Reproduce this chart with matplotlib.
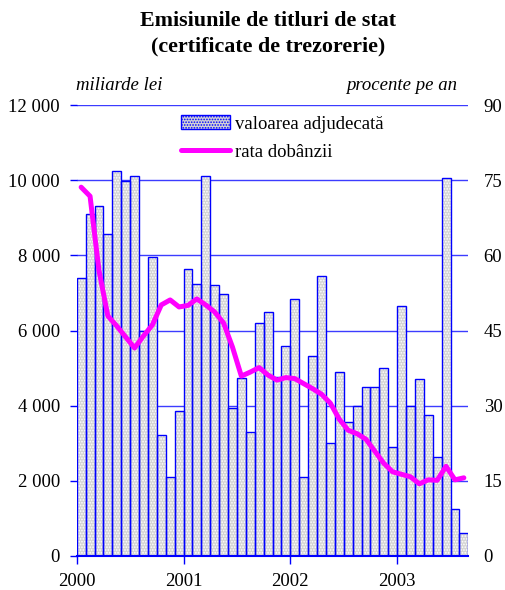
import matplotlib
matplotlib.use("Agg")
import matplotlib.pyplot as plt
import numpy as np
from matplotlib.patches import Patch

# ---- data ----
years = ["2000", "2001", "2002", "2003"]
values = [7410, 9110, 9325, 8580, 10250, 9970, 10120, 6000, 7960, 3220, 2090, 3860,
          7630, 7250, 10100, 7200, 6960, 3930, 4725, 3290, 6190, 6500, 4750, 5590,
          6825, 2090, 5320, 7445, 3000, 4900, 3570, 4000, 4485, 4485, 4990, 2890,
          6650, 3990, 4700, 3740, 2640, 10070, 1240, 620]
rates = [73.6, 71.8, 57.0, 47.9, 45.9, 43.7, 41.5, 43.9, 46.1, 50.1, 51.1, 49.7,
         50.0, 51.3, 50.1, 48.7, 46.5, 41.7, 35.9, 36.7, 37.6, 36.1, 35.1, 35.6,
         35.4, 34.4, 33.4, 32.3, 30.5, 27.3, 25.1, 24.4, 23.3, 20.9, 18.5, 16.8,
         16.3, 15.8, 14.4, 15.2, 15.1, 17.9, 15.2, 15.6]
left_ticks = [0, 2000, 4000, 6000, 8000, 10000, 12000]
left_labels = ["0", "2 000", "4 000", "6 000", "8 000", "10 000", "12 000"]
right_ticks = [0, 15, 30, 45, 60, 75, 90]

plt.rcParams['font.family'] = ['Liberation Serif', 'DejaVu Serif']
plt.rcParams['hatch.linewidth'] = 0.8

FS = 13.5
W, H = 506, 590
fig = plt.figure(figsize=(W / 100, H / 100), dpi=100)
l, r, t, b = 76.7, 468.3, 105, 556
ax = fig.add_axes([l / W, 1 - b / H, (r - l) / W, (b - t) / H])

x = np.arange(len(values))
blue = "#0000ff"
grid_blue = "#3c3cff"
fill = "#d4d4d4"

ax.set_axisbelow(True)
ax.yaxis.grid(True, color=grid_blue, lw=1.0)
ax.bar(x, values, width=1.0, align='edge', color=fill, edgecolor="white",
       linewidth=0, hatch="......", zorder=2)
ax.bar(x, values, width=1.0, align='edge', fill=False, edgecolor=blue,
       linewidth=1.0, zorder=3)
ax.set_xlim(0, len(values))
ax.set_ylim(0, 12000)
ax.set_yticks(left_ticks)
ax.set_yticklabels(left_labels)
ax.set_xticks([0, 12, 24, 36])
ax.set_xticklabels(years)
for s in ["top", "left", "right"]:
    ax.spines[s].set_visible(False)
ax.spines["bottom"].set_color(blue)
ax.spines["bottom"].set_linewidth(1.5)
ax.spines["bottom"].set_zorder(5)
ax.tick_params(axis='y', length=5, width=1, color=blue, pad=7, labelsize=FS)
ax.tick_params(axis='x', length=6, width=1, color=blue, pad=6, labelsize=FS)

ax2 = ax.twinx()
ax2.set_ylim(0, 90)
ax2.set_yticks(right_ticks)
ax2.tick_params(axis='y', length=0, pad=11, labelsize=FS)
for s in ["top", "left", "right", "bottom"]:
    ax2.spines[s].set_visible(False)
line, = ax2.plot(x + 0.5, rates, color="#ff00ff", lw=3.6, solid_capstyle='round',
                 solid_joinstyle='round', zorder=4)

h1 = Patch(facecolor=fill, edgecolor=blue, hatch="......", lw=1.0)
leg = ax2.legend([h1, line], ["valoarea adjudecată", "rata dobânzii"],
                 loc='upper left', bbox_to_anchor=(181 / W, 1 - 115 / H),
                 bbox_transform=fig.transFigure, frameon=False, fontsize=FS,
                 handlelength=2.6, handleheight=0.8, handletextpad=0.3,
                 labelspacing=0.55, borderpad=0, borderaxespad=0)

fig.text(268 / W, 1 - 21 / H, "Emisiunile de titluri de stat", ha='center', va='center',
         fontsize=15.8, fontweight='bold')
fig.text(268 / W, 1 - 46 / H, "(certificate de trezorerie)", ha='center', va='center',
         fontsize=15.8, fontweight='bold')
fig.text(76 / W, 1 - 85 / H, "miliarde lei", ha='left', va='center', fontsize=FS,
         style='italic')
fig.text(457 / W, 1 - 85 / H, "procente pe an", ha='right', va='center', fontsize=FS,
         style='italic')

fig.savefig("out.png", dpi=100)
